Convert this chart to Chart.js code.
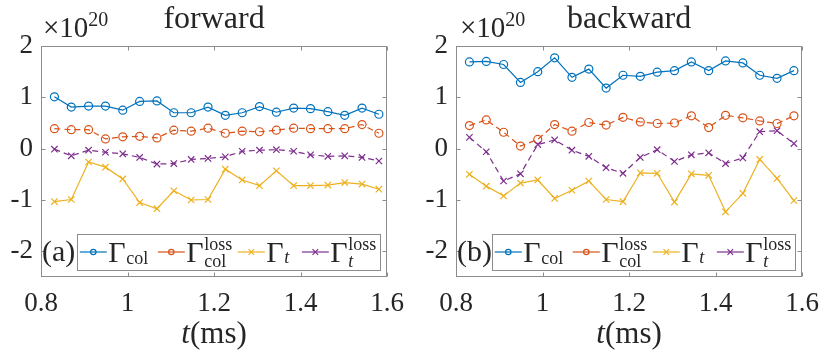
<!DOCTYPE html>
<html>
<head>
<meta charset="utf-8">
<script src="https://cdn.jsdelivr.net/npm/chart.js@4/dist/chart.umd.min.js"></script>
<style>
body { margin: 0; background: #fff; width: 830px; height: 357px; position: relative; overflow: hidden; }
canvas { position: absolute; top: 0; }
</style>
</head>
<body>
<canvas id="fwd" width="415" height="357" style="left:0"></canvas>
<canvas id="bwd" width="415" height="357" style="left:415px"></canvas>
<script>
// time (ms)
const times = [0.831, 0.870, 0.910, 0.949, 0.989, 1.028, 1.068, 1.107, 1.147, 1.186,
               1.226, 1.265, 1.305, 1.344, 1.384, 1.423, 1.463, 1.502, 1.542, 1.581]

// forward, in units of 1e20
const fwdCol     = [1.01, 0.81, 0.83, 0.83, 0.75, 0.92, 0.93, 0.70, 0.70, 0.81, 0.65, 0.70, 0.82, 0.71, 0.79, 0.78, 0.72, 0.65, 0.79, 0.67]
const fwdColLoss = [0.39, 0.37, 0.37, 0.19, 0.23, 0.24, 0.21, 0.36, 0.34, 0.40, 0.30, 0.34, 0.33, 0.36, 0.40, 0.39, 0.39, 0.39, 0.47, 0.30]
const fwdT       = [-1.03, -0.99, -0.26, -0.36, -0.59, -1.05, -1.17, -0.82, -1.00, -0.99, -0.40, -0.61, -0.72, -0.43, -0.72, -0.72, -0.71, -0.66, -0.69, -0.79]
const fwdTLoss   = [-0.01, -0.14, -0.03, -0.07, -0.10, -0.17, -0.30, -0.29, -0.21, -0.19, -0.16, -0.05, -0.03, -0.02, -0.05, -0.12, -0.15, -0.14, -0.17, -0.24]

// backward, in units of 1e20
const bwdCol     = [1.69, 1.70, 1.64, 1.29, 1.50, 1.77, 1.39, 1.55, 1.18, 1.43, 1.41, 1.49, 1.52, 1.69, 1.52, 1.71, 1.67, 1.43, 1.37, 1.52]
const bwdColLoss = [0.45, 0.56, 0.32, 0.05, 0.18, 0.47, 0.34, 0.51, 0.46, 0.61, 0.52, 0.49, 0.50, 0.64, 0.41, 0.65, 0.60, 0.54, 0.49, 0.64]
const bwdT       = [-0.50, -0.73, -0.92, -0.67, -0.61, -0.97, -0.81, -0.63, -0.99, -1.03, -0.47, -0.48, -1.04, -0.49, -0.52, -1.23, -0.87, -0.21, -0.58, -1.01]
const bwdTLoss   = [0.22, -0.06, -0.63, -0.49, 0.08, 0.17, -0.03, -0.15, -0.37, -0.48, -0.17, -0.02, -0.25, -0.12, -0.08, -0.29, -0.18, 0.33, 0.35, 0.10]

const xTicks = [0.8, 1, 1.2, 1.4, 1.6]
const yTicks = [-2, -1, 0, 1, 2]

const FONT = '"Liberation Serif", "Times New Roman", serif'
const textColor = '#262626'
const axisColor = '#8c8c8c'

const seriesStyle = [
    { color: '#0072BD', point: 'circle', dash: [] },
    { color: '#D95319', point: 'circle', dash: [6, 4] },
    { color: '#EDB120', point: 'crossRot', dash: [] },
    { color: '#7E2F8E', point: 'crossRot', dash: [6, 4] }
]

// legend label pieces after the Gamma
const legendLabels = [
    { sup: null, sub: 'col', subItalic: false },
    { sup: 'loss', sub: 'col', subItalic: false },
    { sup: null, sub: 't', subItalic: true },
    { sup: 'loss', sub: 't', subItalic: true }
]
const legendOffsets = [2.3, 80.3, 160.3, 224.3]

const drawMarker = (ctx, style, x, y, r) => {
    ctx.beginPath()
    if (style === 'circle') {
        ctx.arc(x, y, r, 0, Math.PI * 2)
    } else {
        ctx.moveTo(x - r, y - r); ctx.lineTo(x + r, y + r)
        ctx.moveTo(x + r, y - r); ctx.lineTo(x - r, y + r)
    }
    ctx.stroke()
}

const panelDecor = {
    id: 'panelDecor',
    afterDraw: (chart, args, opts) => {
        const {ctx, chartArea: a, scales} = chart
        const L = Math.round(a.left) + 0.5, R = Math.round(a.right) - 0.5
        const T = Math.round(a.top) + 0.5, B = Math.round(a.bottom) - 0.5
        ctx.save()

        // box and inward ticks
        ctx.strokeStyle = axisColor
        ctx.lineWidth = 1
        ctx.setLineDash([])
        ctx.strokeRect(L, T, R - L, B - T)
        ctx.beginPath()
        yTicks.forEach(v => {
            const y = Math.round(scales.y.getPixelForValue(v)) + 0.5
            ctx.moveTo(L, y); ctx.lineTo(L + 4, y)
            ctx.moveTo(R, y); ctx.lineTo(R - 4, y)
        })
        xTicks.forEach(v => {
            const x = Math.round(scales.x.getPixelForValue(v)) + 0.5
            ctx.moveTo(x, T); ctx.lineTo(x, T + 4)
            ctx.moveTo(x, B); ctx.lineTo(x, B - 4)
        })
        ctx.stroke()

        const cx = (a.left + a.right) / 2
        ctx.fillStyle = textColor
        ctx.textBaseline = 'alphabetic'

        // title
        ctx.font = '32px ' + FONT
        ctx.textAlign = 'center'
        ctx.fillText(opts.title, cx, 28)

        // exponent
        ctx.textAlign = 'left'
        ctx.font = '29px ' + FONT
        const ex = a.left + opts.expShift
        ctx.fillText('\u00d710', ex, 36.5)
        const w10 = ctx.measureText('\u00d710').width
        ctx.font = '20px ' + FONT
        ctx.fillText('20', ex + w10, 26)

        // x axis label t(ms)
        ctx.font = 'italic 31px ' + FONT
        const wt = ctx.measureText('t').width
        ctx.font = '31px ' + FONT
        const wms = ctx.measureText('(ms)').width
        const sx = cx - (wt + wms) / 2
        ctx.font = 'italic 31px ' + FONT
        ctx.fillText('t', sx, 343)
        ctx.font = '31px ' + FONT
        ctx.fillText('(ms)', sx + wt, 343)

        // panel tag
        ctx.font = '30px ' + FONT
        ctx.fillText(opts.tag, a.left + 1, 261)

        // legend box
        const bl = Math.round(a.left + 36.4) + 0.5
        const br = Math.round(a.right - 6.7) + 0.5
        const bt = 234.5, bb = 270.5
        ctx.fillStyle = '#ffffff'
        ctx.fillRect(bl, bt, br - bl, bb - bt)
        ctx.strokeStyle = axisColor
        ctx.strokeRect(bl, bt, br - bl, bb - bt)
        const ly = 252
        chart.data.datasets.forEach((ds, i) => {
            const st = seriesStyle[i]
            const x0 = bl + legendOffsets[i]
            ctx.strokeStyle = st.color
            ctx.lineWidth = 1.2
            ctx.beginPath(); ctx.moveTo(x0, ly); ctx.lineTo(x0 + 27, ly); ctx.stroke()
            drawMarker(ctx, st.point, x0 + 13.5, ly, st.point === 'circle' ? 2.7 : 2.8)
            const lb = legendLabels[i]
            ctx.fillStyle = textColor
            ctx.font = '30px ' + FONT
            const gx = x0 + 28.5
            ctx.fillText('\u0393', gx, 261.7)
            const sx2 = gx + ctx.measureText('\u0393').width + 0.5
            if (lb.sup) {
                ctx.font = '18px ' + FONT
                ctx.fillText(lb.sup, sx2, 250)
                ctx.font = (lb.subItalic ? 'italic ' : '') + '18px ' + FONT
                ctx.fillText(lb.sub, sx2, 267)
            } else {
                ctx.font = (lb.subItalic ? 'italic ' : '') + '18px ' + FONT
                ctx.fillText(lb.sub, sx2, lb.subItalic ? 262.5 : 263.5)
            }
        })
        ctx.restore()
    }
}

const makePanel = (canvasId, series, title, tag, expShift) => {
    const dataSets = series.map((vals, i) => ({
        data: vals.map((v, j) => ({ x: times[j], y: v })),
        borderColor: seriesStyle[i].color,
        backgroundColor: 'rgba(0,0,0,0)',
        borderWidth: 1.2,
        borderDash: seriesStyle[i].dash,
        pointStyle: seriesStyle[i].point,
        pointRadius: seriesStyle[i].point === 'circle' ? 4 : 4.5,
        pointBorderWidth: 1.2,
        pointBorderColor: seriesStyle[i].color,
        pointBackgroundColor: 'rgba(0,0,0,0)',
        tension: 0,
        order: 4 - i
    }))

    return new Chart(document.getElementById(canvasId), {
        type: 'line',
        data: { datasets: dataSets },
        options: {
            responsive: false,
            devicePixelRatio: 1,
            animation: false,
            layout: { padding: { top: 46, right: 25, left: 0, bottom: 0 } },
            plugins: {
                legend: { display: false },
                tooltip: { enabled: false },
                title: { display: false },
                panelDecor: { title: title, tag: tag, expShift: expShift }
            },
            scales: {
                x: {
                    type: 'linear',
                    min: 0.8,
                    max: 1.6,
                    afterBuildTicks: s => { s.ticks = xTicks.map(v => ({ value: v })) },
                    afterFit: s => { s.height = 80 },
                    grid: { display: false, drawTicks: false },
                    border: { display: false },
                    ticks: {
                        autoSkip: false,
                        maxRotation: 0,
                        padding: 11,
                        color: textColor,
                        font: { family: FONT, size: 27 },
                        callback: v => String(v)
                    }
                },
                y: {
                    min: -2.5,
                    max: 2,
                    afterBuildTicks: s => { s.ticks = yTicks.map(v => ({ value: v })) },
                    afterFit: s => { s.width = 41 },
                    grid: { display: false, drawTicks: false },
                    border: { display: false },
                    ticks: {
                        autoSkip: false,
                        padding: 8,
                        color: textColor,
                        font: { family: FONT, size: 27 },
                        callback: v => String(v)
                    }
                }
            }
        },
        plugins: [panelDecor]
    })
}

makePanel('fwd', [fwdCol, fwdColLoss, fwdT, fwdTLoss], 'forward', '(a)', 2)
makePanel('bwd', [bwdCol, bwdColLoss, bwdT, bwdTLoss], 'backward', '(b)', 4)
</script>
</body>
</html>
